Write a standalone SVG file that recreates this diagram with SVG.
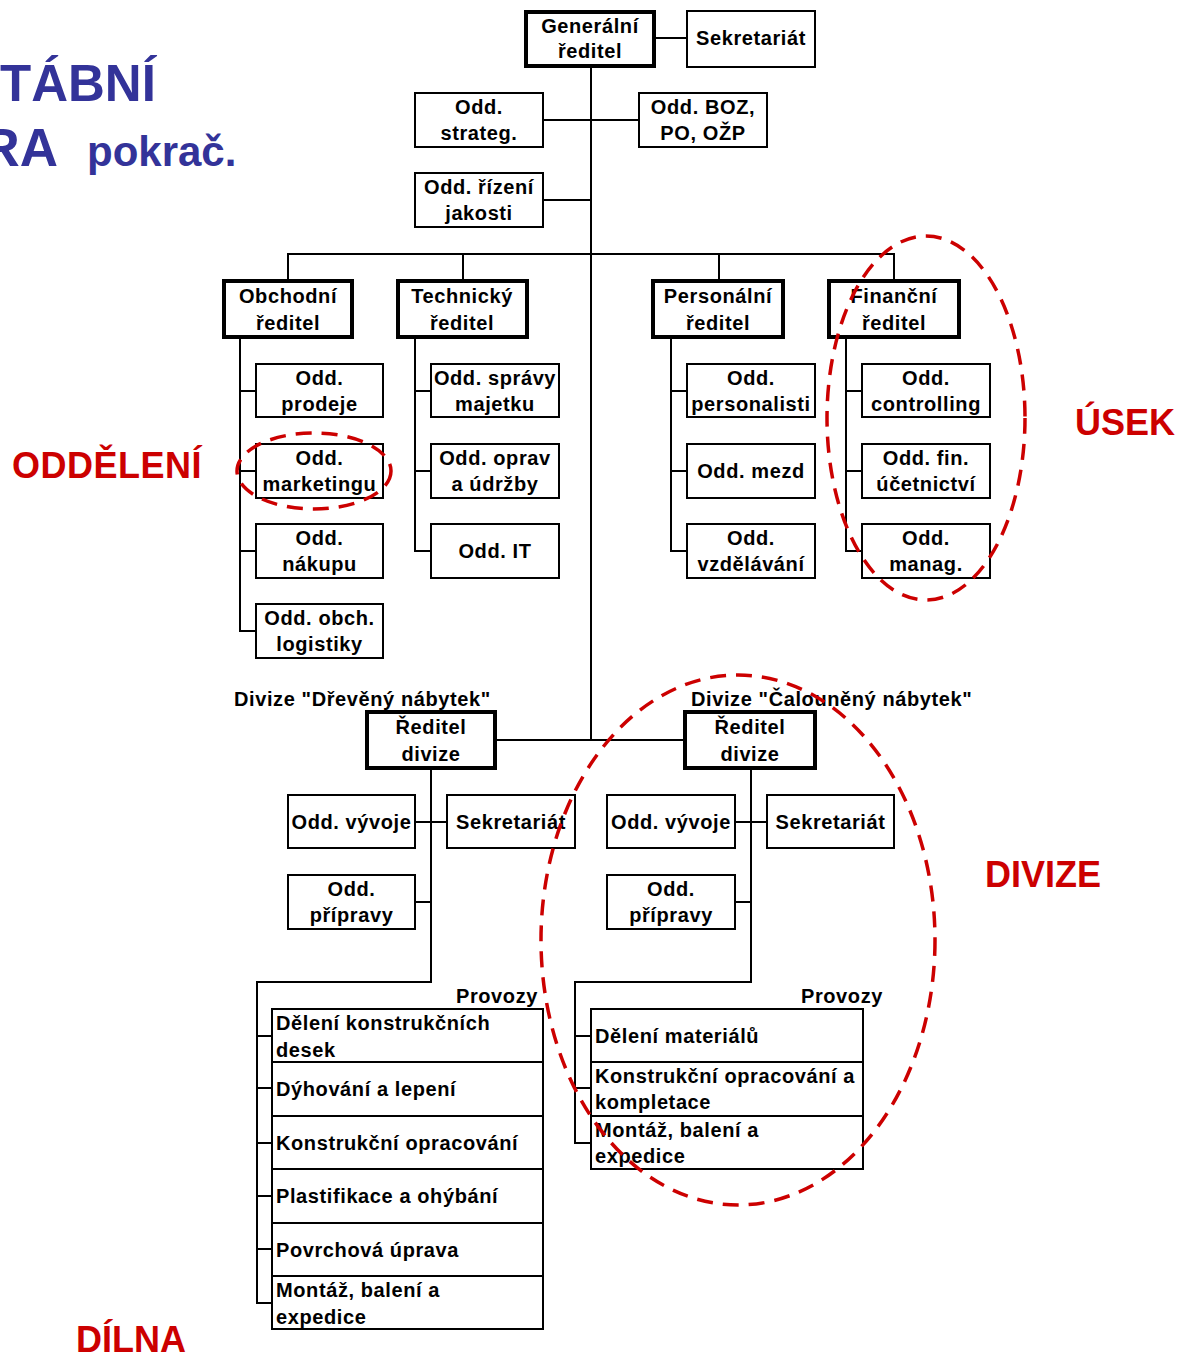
<svg xmlns="http://www.w3.org/2000/svg" width="1181" height="1358" viewBox="0 0 1181 1358">
<style>
.b{fill:#fff;stroke:#000;stroke-width:2}
.k{fill:#fff;stroke:#000;stroke-width:4}
.t{font-family:"Liberation Sans",Arial,sans-serif;font-weight:bold;font-size:20px;letter-spacing:0.6px;fill:#000}
.c{text-anchor:middle}
.e{text-anchor:end}
.conn path{fill:none;stroke:#000;stroke-width:2}
.red{fill:none;stroke:#CC0000;stroke-width:3.5;stroke-dasharray:16 10}
.rl{font-family:"Liberation Sans",Arial,sans-serif;font-weight:bold;font-size:36px;fill:#CC0000}
.ti{font-family:"Liberation Sans",Arial,sans-serif;font-weight:bold;fill:#333399}
</style>
<rect width="1181" height="1358" fill="#fff"/>
<g id="title">
<text class="ti" x="0" y="101" font-size="51">TÁBNÍ</text>
<text class="ti" x="58" y="166" font-size="53" text-anchor="end">RA</text>
<text class="ti" x="87" y="166" font-size="42">pokrač.</text>
</g>
<g class="conn" id="connectors">
<path d="M655,38H687"/>
<path d="M591,66V740"/>
<path d="M543,120H639"/>
<path d="M543,200H591"/>
<path d="M288,281V254H894V281"/>
<path d="M463,254V281M719,254V281"/>
<path d="M240,337V631H256M240,391H256M240,471H256M240,551H256"/>
<path d="M415,337V551H431M415,391H431M415,471H431"/>
<path d="M671,337V551H687M671,391H687M671,471H687"/>
<path d="M846,337V551H862M846,391H862M846,471H862"/>
<path d="M495,740H685"/>
<path d="M431,768V982H257V1303H272M415,822H447M415,902H431M257,1036H272M257,1088H272M257,1143H272M257,1196H272M257,1249H272"/>
<path d="M751,768V982H575V1143H591M735,822H767M735,902H751M575,1036H591M575,1088H591"/>
</g>
<g id="gen"><rect class="k" x="526" y="12" width="128" height="54"/><text class="t c" x="590" y="33">Generální</text><text class="t c" x="590" y="58">ředitel</text></g>
<g id="sek1"><rect class="b" x="687" y="11" width="128" height="56"/><text class="t c" x="751" y="45">Sekretariát</text></g>
<g id="strateg"><rect class="b" x="415" y="93" width="128" height="54"/><text class="t c" x="479" y="114">Odd.</text><text class="t c" x="479" y="140">strateg.</text></g>
<g id="boz"><rect class="b" x="639" y="93" width="128" height="54"/><text class="t c" x="703" y="114">Odd. BOZ,</text><text class="t c" x="703" y="140">PO, OŽP</text></g>
<g id="jakost"><rect class="b" x="415" y="173" width="128" height="54"/><text class="t c" x="479" y="194">Odd. řízení</text><text class="t c" x="479" y="220">jakosti</text></g>
<g id="obch"><rect class="k" x="224" y="281" width="128" height="56"/><text class="t c" x="288" y="303">Obchodní</text><text class="t c" x="288" y="330">ředitel</text></g>
<g id="tech"><rect class="k" x="398" y="281" width="129" height="56"/><text class="t c" x="462" y="303">Technický</text><text class="t c" x="462" y="330">ředitel</text></g>
<g id="pers"><rect class="k" x="653" y="281" width="130" height="56"/><text class="t c" x="718" y="303">Personální</text><text class="t c" x="718" y="330">ředitel</text></g>
<g id="fin"><rect class="k" x="829" y="281" width="130" height="56"/><text class="t c" x="894" y="303">Finanční</text><text class="t c" x="894" y="330">ředitel</text></g>
<g id="prodej"><rect class="b" x="256" y="364" width="127" height="53"/><text class="t c" x="319.5" y="385">Odd.</text><text class="t c" x="319.5" y="411">prodeje</text></g>
<g id="market"><rect class="b" x="256" y="444" width="127" height="54"/><text class="t c" x="319.5" y="465">Odd.</text><text class="t c" x="319.5" y="491">marketingu</text></g>
<g id="nakup"><rect class="b" x="256" y="524" width="127" height="54"/><text class="t c" x="319.5" y="545">Odd.</text><text class="t c" x="319.5" y="571">nákupu</text></g>
<g id="logist"><rect class="b" x="256" y="604" width="127" height="54"/><text class="t c" x="319.5" y="625">Odd. obch.</text><text class="t c" x="319.5" y="651">logistiky</text></g>
<g id="sprava"><rect class="b" x="431" y="364" width="128" height="53"/><text class="t c" x="495" y="385">Odd. správy</text><text class="t c" x="495" y="411">majetku</text></g>
<g id="oprav"><rect class="b" x="431" y="444" width="128" height="54"/><text class="t c" x="495" y="465">Odd. oprav</text><text class="t c" x="495" y="491">a údržby</text></g>
<g id="it"><rect class="b" x="431" y="524" width="128" height="54"/><text class="t c" x="495" y="558">Odd. IT</text></g>
<g id="personal"><rect class="b" x="687" y="364" width="128" height="53"/><text class="t c" x="751" y="385">Odd.</text><text class="t c" x="751" y="411">personalisti</text></g>
<g id="mezd"><rect class="b" x="687" y="444" width="128" height="54"/><text class="t c" x="751" y="478">Odd. mezd</text></g>
<g id="vzdel"><rect class="b" x="687" y="524" width="128" height="54"/><text class="t c" x="751" y="545">Odd.</text><text class="t c" x="751" y="571">vzdělávání</text></g>
<g id="control"><rect class="b" x="862" y="364" width="128" height="53"/><text class="t c" x="926" y="385">Odd.</text><text class="t c" x="926" y="411">controlling</text></g>
<g id="ucet"><rect class="b" x="862" y="444" width="128" height="54"/><text class="t c" x="926" y="465">Odd. fin.</text><text class="t c" x="926" y="491">účetnictví</text></g>
<g id="manag"><rect class="b" x="862" y="524" width="128" height="54"/><text class="t c" x="926" y="545">Odd.</text><text class="t c" x="926" y="571">manag.</text></g>
<g id="divL"><text class="t" x="234" y="706">Divize "Dřevěný nábytek"</text><rect class="k" x="367" y="712" width="128" height="56"/><text class="t c" x="431" y="734">Ředitel</text><text class="t c" x="431" y="761">divize</text></g>
<g id="divR"><text class="t" x="691" y="706">Divize "Čalouněný nábytek"</text><rect class="k" x="685" y="712" width="130" height="56"/><text class="t c" x="750" y="734">Ředitel</text><text class="t c" x="750" y="761">divize</text></g>
<g id="vyvojL"><rect class="b" x="288" y="795" width="127" height="53"/><text class="t c" x="351.5" y="829">Odd. vývoje</text></g>
<g id="sekL"><rect class="b" x="447" y="795" width="128" height="53"/><text class="t c" x="511" y="829">Sekretariát</text></g>
<g id="pripL"><rect class="b" x="288" y="875" width="127" height="54"/><text class="t c" x="351.5" y="896">Odd.</text><text class="t c" x="351.5" y="922">přípravy</text></g>
<g id="vyvojR"><rect class="b" x="607" y="795" width="128" height="53"/><text class="t c" x="671" y="829">Odd. vývoje</text></g>
<g id="sekR"><rect class="b" x="767" y="795" width="127" height="53"/><text class="t c" x="830.5" y="829">Sekretariát</text></g>
<g id="pripR"><rect class="b" x="607" y="875" width="128" height="54"/><text class="t c" x="671" y="896">Odd.</text><text class="t c" x="671" y="922">přípravy</text></g>
<text class="t e" x="538" y="1003">Provozy</text>
<text class="t e" x="883" y="1003">Provozy</text>
<g id="pL1"><rect class="b" x="272" y="1009" width="271" height="53"/><text class="t" x="276" y="1030">Dělení konstrukčních</text><text class="t" x="276" y="1057">desek</text></g>
<g id="pL2"><rect class="b" x="272" y="1062" width="271" height="54"/><text class="t" x="276" y="1096">Dýhování a lepení</text></g>
<g id="pL3"><rect class="b" x="272" y="1116" width="271" height="53"/><text class="t" x="276" y="1150">Konstrukční opracování</text></g>
<g id="pL4"><rect class="b" x="272" y="1169" width="271" height="54"/><text class="t" x="276" y="1203">Plastifikace a ohýbání</text></g>
<g id="pL5"><rect class="b" x="272" y="1223" width="271" height="53"/><text class="t" x="276" y="1257">Povrchová úprava</text></g>
<g id="pL6"><rect class="b" x="272" y="1276" width="271" height="53"/><text class="t" x="276" y="1297">Montáž, balení a</text><text class="t" x="276" y="1324">expedice</text></g>
<g id="pR1"><rect class="b" x="591" y="1009" width="272" height="53"/><text class="t" x="595" y="1043">Dělení materiálů</text></g>
<g id="pR2"><rect class="b" x="591" y="1062" width="272" height="54"/><text class="t" x="595" y="1083">Konstrukční opracování a</text><text class="t" x="595" y="1109">kompletace</text></g>
<g id="pR3"><rect class="b" x="591" y="1116" width="272" height="53"/><text class="t" x="595" y="1137">Montáž, balení a</text><text class="t" x="595" y="1163">expedice</text></g>
<g id="highlights">
<ellipse class="red" cx="314" cy="471" rx="77" ry="38"/>
<ellipse class="red" cx="926" cy="418" rx="99" ry="182"/>
<ellipse class="red" cx="738" cy="940" rx="197" ry="265"/>
</g>
<text class="rl" x="12" y="478" letter-spacing="0.5">ODDĚLENÍ</text>
<text class="rl" x="1075" y="435">ÚSEK</text>
<text class="rl" x="985" y="887">DIVIZE</text>
<text class="rl" x="76" y="1352">DÍLNA</text>
</svg>
